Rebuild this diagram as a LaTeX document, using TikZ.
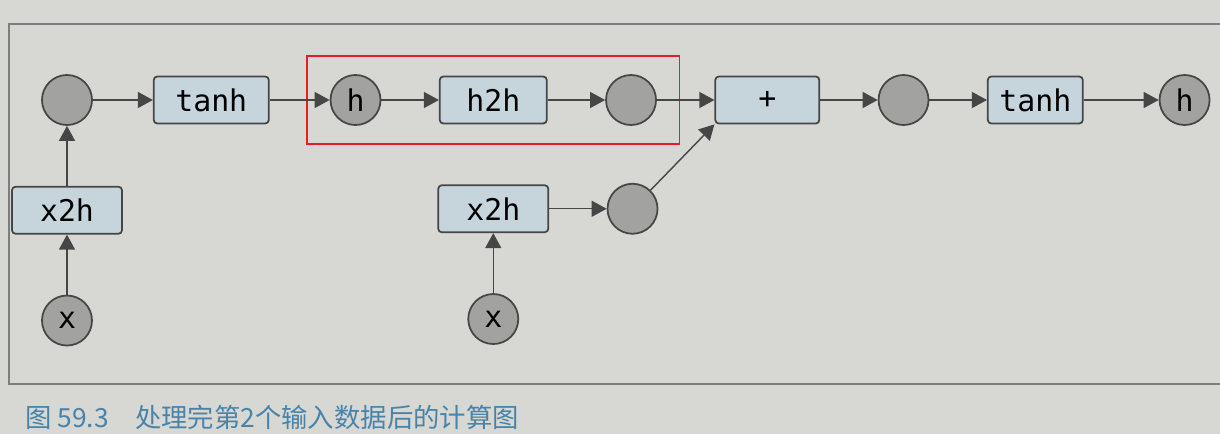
\documentclass[tikz,border=0pt]{standalone}
\usepackage{fontspec}
\setmonofont{DejaVu Sans Mono}
\newfontfamily\cjkfont{Noto Sans CJK SC}
\usepackage{xcolor}
\usetikzlibrary{arrows.meta, positioning, fit}

\definecolor{paper}{RGB}{215,215,211}
\definecolor{edge}{RGB}{70,70,70}
\definecolor{boxfill}{RGB}{198,212,220}
\definecolor{varfill}{RGB}{162,162,160}
\definecolor{framegray}{RGB}{125,125,125}
\definecolor{focusred}{RGB}{232,28,36}
\definecolor{captionblue}{RGB}{72,132,170}

\begin{document}
\begin{tikzpicture}[
    node distance=1.2cm and 1.15cm,
    font=\ttfamily\fontsize{17}{20}\selectfont,
    op/.style={draw=edge, line width=1pt, rounded corners=2pt, fill=boxfill, minimum width=2.2cm, minimum height=0.94cm, inner sep=0pt},
    var/.style={circle, draw=edge, line width=1pt, fill=varfill, minimum size=1cm, inner sep=0pt},
    arrow/.style={-{Triangle[length=0.3cm, width=0.32cm]}, line width=0.8pt, draw=edge},
    frame/.style={draw=framegray, line width=0.7pt}
]

% Page
\clip (0,0) rectangle (24.4,8.68);
\fill[paper] (0,0) rectangle (24.4,8.68);
\draw[frame] (24.6,8.2) -- (0.18,8.2) -- (0.18,1.0) -- (24.6,1.0);

% Nodes
\node[var] (in1) at (1.34,6.68) {};
\node[op, minimum width=2.3cm] (tanh1) [right=1.2cm of in1] {tanh};
\node[var] (hprev) [right=1.2cm of tanh1] {h};
\node[op, minimum width=2.14cm] (h2h) [right=of hprev] {h2h};
\node[var] (hh) [right=of h2h] {};
\node[op, minimum width=2.08cm] (plus) [right=of hh] {+};
\node[var] (sum) [right=of plus] {};
\node[op, minimum width=1.9cm] (tanh2) [right=of sum] {tanh};
\node[var] (hnext) [right=1.5cm of tanh2] {h};
\node[op] (x2h1) [below=of in1] {x2h};
\node[var] (x1) [below=of x2h1] {x};
\node[op] (x2h2) [below=of h2h] {x2h};
\node[var] (x2) [below=of x2h2] {x};
\node[var] (xh) [right=of x2h2] {};

% Highlight
\node[draw=focusred, line width=1pt, fit=(hprev)(h2h)(hh), inner xsep=0.45cm, inner ysep=0.36cm] (focus) {};

% Edges
\draw[arrow] (x1) -- (x2h1);
\draw[arrow] (x2h1) -- (in1);
\draw[arrow] (in1) -- (tanh1);
\draw[arrow] (tanh1) -- (hprev);
\draw[arrow] (hprev) -- (h2h);
\draw[arrow] (h2h) -- (hh);
\draw[arrow] (hh) -- (plus);
\draw[arrow] (x2) -- (x2h2);
\draw[arrow] (x2h2) -- (xh);
\draw[arrow] (xh) -- (plus.south west);
\draw[arrow] (plus) -- (sum);
\draw[arrow] (sum) -- (tanh2);
\draw[arrow] (tanh2) -- (hnext);

% Caption
\node[font=\cjkfont\fontsize{15}{18}\selectfont, text=captionblue, anchor=base west, inner sep=0pt] (caption) at (0.5,0.14) {图 59.3\quad 处理完第2个输入数据后的计算图};

\end{tikzpicture}
\end{document}
